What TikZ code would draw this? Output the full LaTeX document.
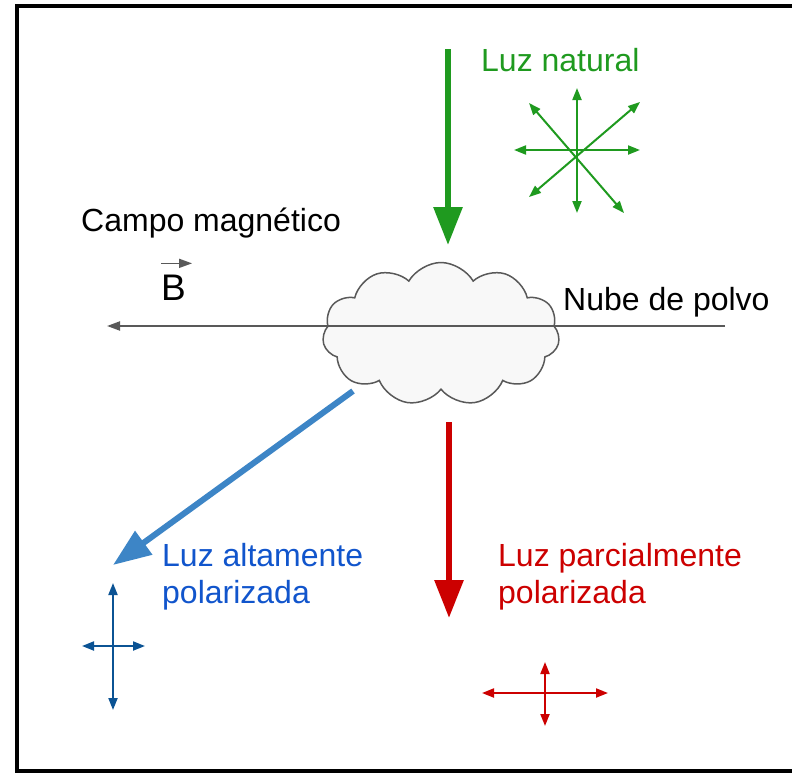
\documentclass[tikz,border=0pt]{standalone}
\usepackage{fontspec}
\setmainfont{Liberation Sans}
\usetikzlibrary{arrows.meta,shapes.symbols}
\definecolor{natural}{HTML}{1F9A1F}
\definecolor{arrowblue}{HTML}{3D85C6}
\definecolor{textblue}{HTML}{1155CC}
\definecolor{crossblue}{HTML}{0B5394}
\definecolor{polred}{HTML}{CC0000}
\definecolor{cloudline}{HTML}{595959}
\definecolor{cloudfill}{HTML}{F8F8F8}
\tikzset{
  txt/.style={inner sep=0pt, anchor=base west, align=left, font=\fontsize{32}{37}\selectfont},
  beam/.style={line width=6pt, -{Triangle[length=38pt,width=28pt]}},
  pol/.style={line width=2pt, {Triangle[length=12pt,width=9pt]}-{Triangle[length=12pt,width=9pt]}},
  field/.style={cloudline, line width=2pt, -{Triangle[length=13pt,width=9pt]}},
}
\begin{document}
\begin{tikzpicture}[x=1pt,y=-1pt]
\useasboundingbox (0,0) rectangle (792,774);
\draw[line width=4pt] (792,6) -- (17,6) -- (17,770.5) -- (792,770.5);

\node[cloud, cloud puffs=11, cloud puff arc=120, aspect=1.66, draw=cloudline, fill=cloudfill,
  line width=1.5pt, minimum width=237pt, minimum height=143pt, inner sep=0pt] (nube) at (441,334) {};

\coordinate (natA) at (448,49);
\coordinate (natB) at (448,245);
\draw[beam, natural] (natA) -- (natB);
\node[txt, text=natural] (natural) at (481,71) {Luz natural};

\draw[pol, natural] (577,88) -- (577,213);
\draw[pol, natural] (514,150) -- (640,150);
\draw[pol, natural] (529,103) -- (624,213);
\draw[pol, natural] (529,197) -- (640,102);

\coordinate (campoA) at (725,326);
\coordinate (campoB) at (107,326);
\draw[field] (campoA) -- (campoB);
\node[txt] (campo) at (81,231) {Campo magnético};
\node[txt, font=\fontsize{37}{40}\selectfont] (bvec) at (161,300) {B};
\draw[field, line width=1.5pt] ([shift={(0,-11)}]bvec.north west) -- ([shift={(6,-11)}]bvec.north east);
\node[txt] (nubetxt) at (563,310) {Nube de polvo};

\coordinate (altaA) at (353,391);
\coordinate (altaB) at (113,565);
\draw[beam, arrowblue] (altaA) -- (altaB);
\node[txt, text=textblue] (alta) at (162,603) {Luz altamente\\polarizada};
\draw[pol, crossblue] (113,583) -- (113,710);
\draw[pol, crossblue] (82,646) -- (145,646);

\coordinate (parcA) at (449,422);
\coordinate (parcB) at (449,618);
\draw[beam, polred] (parcA) -- (parcB);
\node[txt, text=polred] (parcial) at (498,603) {Luz parcialmente\\polarizada};
\draw[pol, polred] (545,662) -- (545,726);
\draw[pol, polred] (482,693) -- (608,693);

\end{tikzpicture}
\end{document}
